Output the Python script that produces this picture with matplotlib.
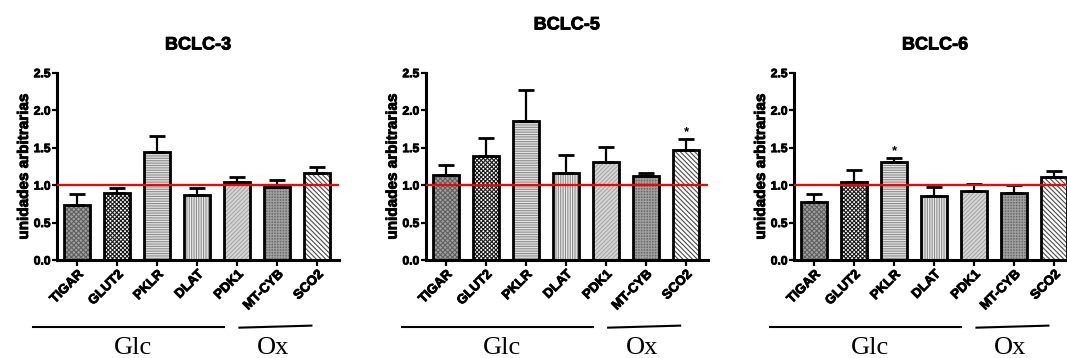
import matplotlib
matplotlib.use("Agg")
import matplotlib.pyplot as plt
import matplotlib.patheffects as pe
import numpy as np

plt.rcParams["font.family"] = ["Liberation Sans", "DejaVu Sans"]
plt.rcParams["font.weight"] = "bold"
plt.rcParams["hatch.linewidth"] = 0.8

genes = ["TIGAR", "GLUT2", "PKLR", "DLAT", "PDK1", "MT-CYB", "SCO2"]
titles = ["BCLC-3", "BCLC-5", "BCLC-6"]

bclc3_mean = [0.74, 0.89, 1.44, 0.87, 1.04, 0.98, 1.16]
bclc3_sem = [0.14, 0.075, 0.22, 0.085, 0.07, 0.09, 0.075]
bclc5_mean = [1.13, 1.39, 1.85, 1.16, 1.31, 1.12, 1.47]
bclc5_sem = [0.14, 0.24, 0.42, 0.24, 0.195, 0.04, 0.15]
bclc6_mean = [0.77, 1.04, 1.31, 0.86, 0.92, 0.90, 1.11]
bclc6_sem = [0.11, 0.165, 0.053, 0.115, 0.10, 0.10, 0.08]

# significant genes per panel (marked with an asterisk)
bclc3_sig = []
bclc5_sig = ["SCO2"]
bclc6_sig = ["PKLR"]

group_labels = ["Glc", "Ox"]

panels = [
    (titles[0], bclc3_mean, bclc3_sem, bclc3_sig),
    (titles[1], bclc5_mean, bclc5_sem, bclc5_sig),
    (titles[2], bclc6_mean, bclc6_sem, bclc6_sig),
]

# fill colour, hatch pattern, hatch colour for each gene
styles = [
    ("#a0a0a0", "xxxxxxx", "#606060"),
    ("#ffffff", "xxxxxxxx", "#1a1a1a"),
    ("#e4e4e4", "-------", "#8c8c8c"),
    ("#ececec", "|||||||", "#8c8c8c"),
    ("#d6d6d6", "////////", "#a8a8a8"),
    ("#6c6c6c", "++++++", "#a0a0a0"),
    ("#ffffff", "\\\\\\\\\\\\\\", "#4a4a4a"),
]

# slight outline to give the labels a heavier weight
heavy = [pe.withStroke(linewidth=0.6, foreground="black")]

W, H = 1067, 358
fig = plt.figure(figsize=(W / 100, H / 100), dpi=100)

lefts_px = [57, 425.7, 794]
title_y = [1.148, 1.255, 1.148]
ax_w = 282 / W
ax_b = (H - 260) / H
ax_h = 187.3 / H

x = np.arange(len(genes))
for k, (title, mean, sem, sig) in enumerate(panels):
    ax = fig.add_axes([lefts_px[k] / W, ax_b, ax_w, ax_h])
    for i in range(len(genes)):
        fc, hatch, hc = styles[i]
        ax.bar(x[i], mean[i], width=0.65, facecolor=fc, hatch=hatch,
               edgecolor=hc, linewidth=0, zorder=2)
        ax.bar(x[i], mean[i], width=0.65, facecolor="none",
               edgecolor="black", linewidth=2.0, zorder=3)
    ax.errorbar(x, mean, yerr=[np.zeros(len(sem)), sem], fmt="none",
                ecolor="black", elinewidth=1.6, capsize=5.5, capthick=2.0,
                zorder=2.5)
    ax.axhline(1.0, color="#ff0000", linewidth=1.6, zorder=5)
    for g in sig:
        i = genes.index(g)
        ax.text(x[i], mean[i] + sem[i] + 0.045, "*", ha="center",
                va="baseline", fontsize=9.5, fontweight="bold")

    ax.set_xlim(-0.5125, 6.54)
    ax.set_ylim(0, 2.5)
    ax.set_yticks([0, 0.5, 1.0, 1.5, 2.0, 2.5])
    ax.set_yticklabels(["0.0", "0.5", "1.0", "1.5", "2.0", "2.5"],
                       fontsize=8.7, fontweight="bold")
    ax.set_xticks(x)
    ax.set_xticklabels(genes, rotation=45, ha="right",
                       rotation_mode="anchor", fontsize=9.5,
                       fontweight="bold")
    for lab in ax.get_xticklabels() + ax.get_yticklabels():
        lab.set_path_effects(heavy)
    ax.tick_params(axis="x", length=4, width=1.6, pad=2)
    ax.tick_params(axis="y", length=3.5, width=1.6, pad=1)
    for s in ("top", "right"):
        ax.spines[s].set_visible(False)
    for s in ("left", "bottom"):
        ax.spines[s].set_linewidth(2.2)
    yl = ax.set_ylabel("unidades arbitrarias", fontsize=11,
                       fontweight="bold", labelpad=2)
    yl.set_path_effects(heavy)
    ax.text(0.5, title_y[k], title, transform=ax.transAxes, ha="center",
            va="center", fontsize=13, fontweight="bold", path_effects=heavy)

    # group brackets under the gene labels
    ax.plot([-1.11, 3.67], [-0.893, -0.893], color="black", linewidth=1.5,
            clip_on=False)
    ax.plot([4.05, 5.85], [-0.903, -0.876], color="black", linewidth=1.5,
            clip_on=False)
    ax.text(1.39, -1.17, group_labels[0], ha="center", va="center",
            fontsize=19, family="Liberation Serif", fontweight="normal",
            clip_on=False)
    ax.text(4.89, -1.17, group_labels[1], ha="center", va="center",
            fontsize=19, family="Liberation Serif", fontweight="normal",
            clip_on=False)

fig.savefig("out.png", dpi=100)
